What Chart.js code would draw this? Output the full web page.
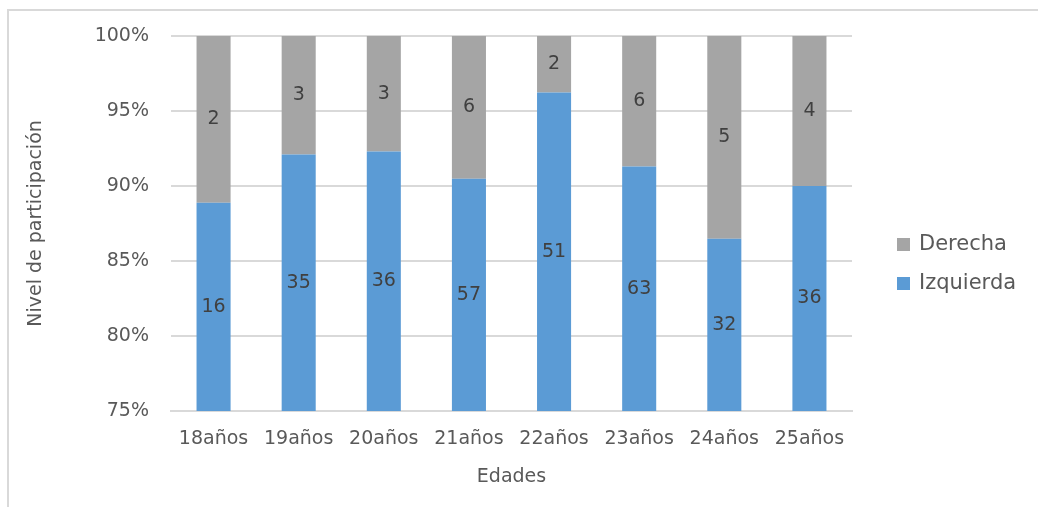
<!DOCTYPE html>
<html>
<head>
<meta charset="utf-8">
<script src="https://cdn.jsdelivr.net/npm/chart.js@4"></script>
<style>
  html, body { margin: 0; padding: 0; background: #fff; }
  #wrap { position: relative; width: 1038px; height: 507px; }
  #frame { position: absolute; left: 7px; top: 9px; width: 1100px; height: 600px; border: 2px solid #d9d9d9; box-sizing: border-box; }
  canvas { position: absolute; left: 0; top: 0; }
</style>
</head>
<body>
<div id="wrap">
  <div id="frame"></div>
  <canvas id="chart" width="1038" height="507"></canvas>
</div>
<script>
const edades = ["18años", "19años", "20años", "21años", "22años", "23años", "24años", "25años"];
const izquierda = [16, 35, 36, 57, 51, 63, 32, 36];
const derecha = [2, 3, 3, 6, 2, 6, 5, 4];
const yTicks = [75, 80, 85, 90, 95, 100];

const FONT = "'DejaVu Sans', sans-serif";
const TEXT = "#595959";

// 100% stacked: turn counts into shares of each age group
const totals = izquierda.map((v, i) => v + derecha[i]);
const izqPct = izquierda.map((v, i) => v / totals[i] * 100);
const derPct = derecha.map((v, i) => v / totals[i] * 100);

const barLabels = {
  id: "barLabels",
  afterDatasetsDraw(chart) {
    const { ctx, chartArea } = chart;
    ctx.save();
    ctx.font = "19px " + FONT;
    ctx.fillStyle = "#404040";
    ctx.textAlign = "center";
    ctx.textBaseline = "middle";
    chart.data.datasets.forEach((ds, di) => {
      const meta = chart.getDatasetMeta(di);
      meta.data.forEach((bar, i) => {
        const top = Math.max(Math.min(bar.y, bar.base), chartArea.top);
        const bottom = Math.min(Math.max(bar.y, bar.base), chartArea.bottom);
        ctx.fillText(String(ds.counts[i]), bar.x, (top + bottom) / 2);
      });
    });
    ctx.restore();
  }
};

const sideLegend = {
  id: "sideLegend",
  afterDraw(chart) {
    const { ctx } = chart;
    const items = [
      { text: "Derecha", color: "#a5a5a5", y: 244 },
      { text: "Izquierda", color: "#5b9bd5", y: 283 }
    ];
    ctx.save();
    ctx.font = "21px " + FONT;
    ctx.textBaseline = "middle";
    items.forEach(it => {
      ctx.fillStyle = it.color;
      ctx.fillRect(897, it.y - 6, 13, 13);
      ctx.fillStyle = TEXT;
      ctx.fillText(it.text, 919, it.y + 1);
    });
    ctx.restore();
  }
};

new Chart(document.getElementById("chart"), {
  type: "bar",
  data: {
    labels: edades,
    datasets: [
      { label: "Izquierda", data: izqPct, counts: izquierda, backgroundColor: "#5b9bd5" },
      { label: "Derecha", data: derPct, counts: derecha, backgroundColor: "#a5a5a5" }
    ]
  },
  options: {
    responsive: false,
    animation: false,
    layout: { padding: { top: 36, right: 186, bottom: 0, left: 0 } },
    plugins: {
      legend: { display: false },
      tooltip: { enabled: false }
    },
    datasets: {
      bar: { barPercentage: 1, categoryPercentage: 0.40 }
    },
    scales: {
      x: {
        stacked: true,
        afterFit: (s) => { s.height = 96; },
        grid: { display: false, drawTicks: false },
        border: { color: "#d9d9d9", width: 2 },
        ticks: { color: TEXT, font: { family: FONT, size: 19 }, padding: 17, maxRotation: 0 },
        title: { display: true, text: "Edades", color: TEXT, font: { family: FONT, size: 19 }, padding: { top: 0, bottom: 19 } }
      },
      y: {
        stacked: true,
        min: 75,
        max: 100,
        afterFit: (s) => { s.width = 171; },
        afterBuildTicks: (s) => { s.ticks = yTicks.map(v => ({ value: v })); },
        grid: { color: "#d9d9d9", lineWidth: 2, drawTicks: false },
        border: { display: false },
        ticks: { color: TEXT, font: { family: FONT, size: 19 }, padding: 22, callback: (v) => v + "%" },
        title: { display: true, text: "Nivel de participación", color: TEXT, font: { family: FONT, size: 19 }, padding: { top: 25, bottom: 0 } }
      }
    }
  },
  plugins: [barLabels, sideLegend]
});
</script>
</body>
</html>
